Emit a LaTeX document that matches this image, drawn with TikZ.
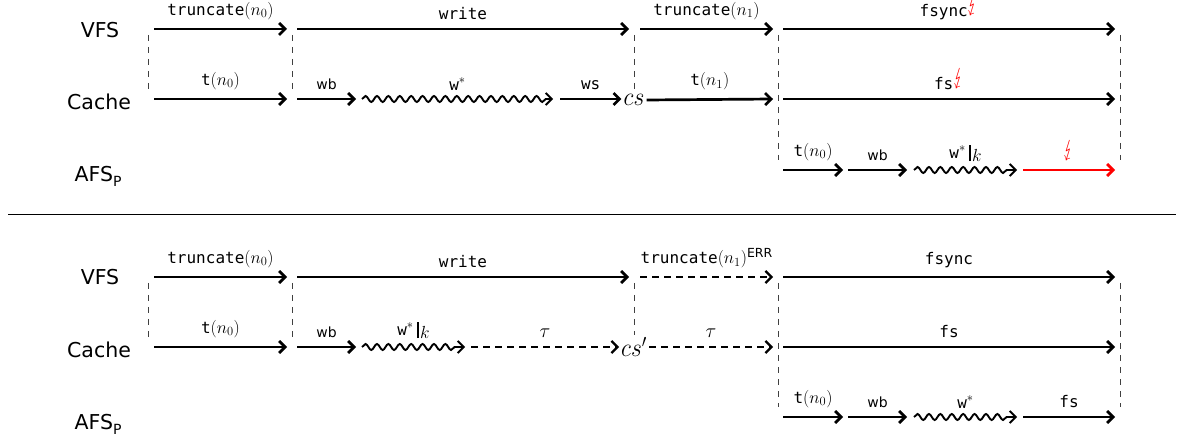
\RequirePackage{fix-cm}
\documentclass[tikz,border=0pt]{standalone}
\usepackage{fontspec}
\setsansfont{DejaVu Sans}
\setmonofont{DejaVu Sans Mono}
\usepackage{stmaryrd}
\usetikzlibrary{arrows.meta,decorations.pathmorphing}
% math beside the 16pt typewriter labels is set a little larger
\DeclareMathSizes{16}{17.5}{12.5}{10}
% operation names in typewriter, error marks in red
\newcommand{\op}[1]{\texttt{#1}}
\newcommand{\bolt}{\textcolor{red}{\scalebox{1}[1.35]{$\lightning$}}}
\newcommand{\wst}{\op{w}$^{*}$}
\newcommand{\wk}{\op{w}$^{*}$\hspace{3pt}\rule[-3pt]{2.4pt}{16pt}\hspace{1pt}\raisebox{-3pt}{$k$}}
\newcommand{\wbk}{\textsf{\fontsize{14}{16}\selectfont wb}}
\newcommand{\afsp}{AFS\raisebox{-5pt}{\fontsize{14}{16}\selectfont P}}
\newcommand{\errtag}{\raisebox{6pt}{\textsf{\fontsize{12.5}{14}\selectfont ERR}}}
\newcommand{\bigmath}[1]{\scalebox{0.9}[1.0]{$#1$}}
\begin{document}
\begin{tikzpicture}[x=1pt,y=-1pt,
  >={Straight Barb[length=6pt,width=12pt]},
  lane/.style={font=\sffamily\fontsize{20.5}{24}\selectfont, anchor=base, inner sep=0pt},
  act/.style={line width=2.7pt,->},
  quiet/.style={line width=2.3pt,->,dash pattern=on 7pt off 5pt},
  wavy/.style={line width=1.9pt,->,decorate,
    decoration={snake,amplitude=3pt,segment length=11.4pt,post length=5pt}},
  sync/.style={line width=0.9pt,black!75,dash pattern=on 6pt off 6pt},
  lbl/.style={midway,above,inner xsep=2pt,inner ysep=8pt,font=\fontsize{16}{19}\selectfont},
  state/.style={font=\fontsize{26}{30}\selectfont,inner sep=2pt},
  taul/.style={lbl,font=\fontsize{20}{24}\selectfont}]
\useasboundingbox (0,0) rectangle (1178,438);

% lane end points: U = upper run, L = lower run; V/C/A = VFS, Cache, AFS_P
\foreach \r/\y in {UV/29,UC/99,UA/170,LV/277,LC/347,LA/417}
  \foreach \x in {154,287,297,356,362,465,471,553,560,629,640,773,783,843,848,907,914,1017,1023,1115}
    \coordinate (\r\x) at (\x,\y);
% end points of the synchronisation marks
\foreach \x in {148,292,634,778,1120}{
  \coordinate (Ut\x) at (\x,35);  \coordinate (Ub\x) at (\x,90);
  \coordinate (Lt\x) at (\x,283); \coordinate (Lb\x) at (\x,337);
  \coordinate (UB\x) at (\x,160); \coordinate (LB\x) at (\x,407);
}

% ---------- upper run ----------
\node[lane] (uvfs) at (100,38) {VFS};
\node[lane] (ucache) at (99,110) {Cache};
\node[lane] (uafs) at (98,182) {\afsp};

\draw[act] (UV154) -- (UV287) node[lbl] {\op{truncate}$(n_0)$};
\draw[act] (UV297) -- (UV629) node[lbl] {\op{write}};
\draw[act] (UV640) -- (UV773) node[lbl] {\op{truncate}$(n_1)$};
\draw[act] (UV783) -- (UV1115) node[lbl] {\op{fsync}\raisebox{5pt}{\bolt}};

\node[state] (cs) at (634,100) {\bigmath{cs}};
\draw[act] (UC154) -- (UC287) node[lbl] {\op{t}$(n_0)$};
\draw[act] (UC297) -- (UC356) node[lbl] {\wbk};
\draw[wavy] (UC362) -- (UC553) node[lbl] {\wst};
\draw[act] (UC560) -- (cs.west |- UC560) node[lbl] {\op{ws}};
\draw[act] (cs.east) -- (UC773) node[lbl] {\op{t}$(n_1)$};
\draw[act] (UC783) -- (UC1115) node[lbl] {\op{fs}\raisebox{5pt}{\bolt}};

\draw[act] (UA783) -- (UA843) node[lbl] {\op{t}$(n_0)$};
\draw[act] (UA848) -- (UA907) node[lbl] {\wbk};
\draw[wavy] (UA914) -- (UA1017) node[lbl] {\wk};
\draw[act,red] (UA1023) -- (UA1115) node[lbl] {\bolt};

\draw[sync] (Ut148) -- (Ub148);
\draw[sync] (Ut292) -- (Ub292);
\draw[sync] (Ut634) -- (cs.north);
\draw[sync] (Ut778) -- (UB778);
\draw[sync] (Ut1120) -- (UB1120);

% separator
\coordinate (sepL) at (8,215);
\coordinate (sepR) at (1176,215);
\draw[line width=1pt] (sepL) -- (sepR);

% ---------- lower run ----------
\node[lane] (lvfs) at (100,285) {VFS};
\node[lane] (lcache) at (99,357) {Cache};
\node[lane] (lafs) at (98,429) {\afsp};

\draw[act] (LV154) -- (LV287) node[lbl] {\op{truncate}$(n_0)$};
\draw[act] (LV297) -- (LV629) node[lbl] {\op{write}};
\draw[quiet] (LV640) -- (LV773) node[lbl] {\op{truncate}$(n_1)$\errtag};
\draw[act] (LV783) -- (LV1115) node[lbl] {\op{fsync}};

\node[state] (csp) at (634,347) {\bigmath{cs'}};
\draw[act] (LC154) -- (LC287) node[lbl] {\op{t}$(n_0)$};
\draw[act] (LC297) -- (LC356) node[lbl] {\wbk};
\draw[wavy] (LC362) -- (LC465) node[lbl] {\wk};
\draw[quiet] (LC471) -- (csp.west |- LC471) node[taul] {$\tau$};
\draw[quiet] (csp.east |- LC773) -- (LC773) node[taul] {$\tau$};
\draw[act] (LC783) -- (LC1115) node[lbl] {\op{fs}};

\draw[act] (LA783) -- (LA843) node[lbl] {\op{t}$(n_0)$};
\draw[act] (LA848) -- (LA907) node[lbl] {\wbk};
\draw[wavy] (LA914) -- (LA1017) node[lbl] {\wst};
\draw[act] (LA1023) -- (LA1115) node[lbl] {\op{fs}};

\draw[sync] (Lt148) -- (Lb148);
\draw[sync] (Lt292) -- (Lb292);
\draw[sync] (Lt634) -- (csp.north);
\draw[sync] (Lt778) -- (LB778);
\draw[sync] (Lt1120) -- (LB1120);
\end{tikzpicture}
\end{document}
